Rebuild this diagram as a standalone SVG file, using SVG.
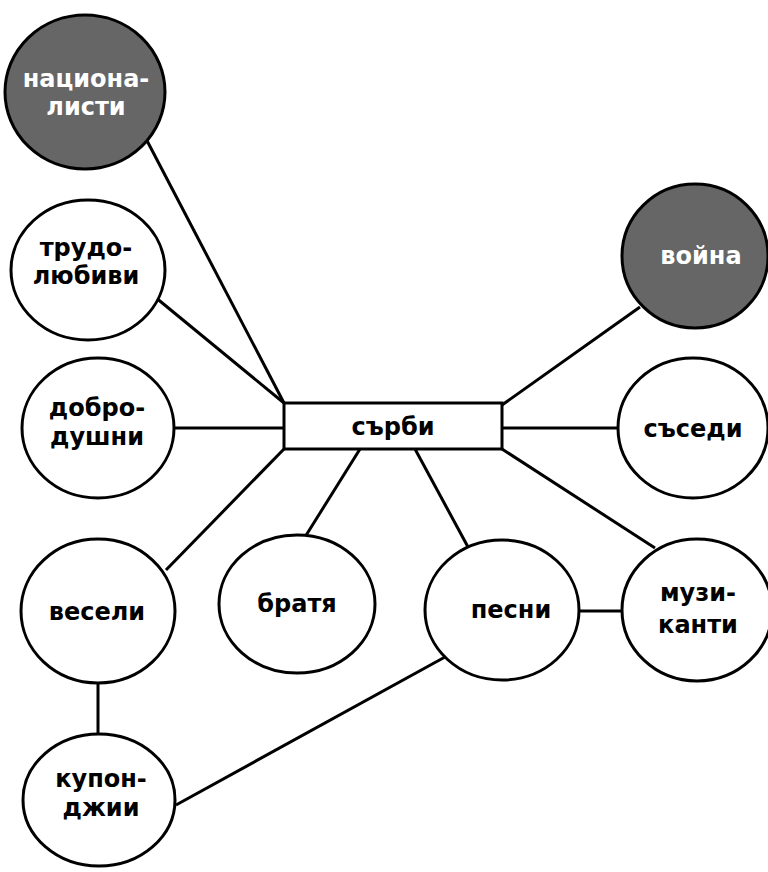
<svg xmlns="http://www.w3.org/2000/svg" width="768" height="872" viewBox="0 0 768 872">
<style>
.n{fill:#fff;stroke:#000;stroke-width:3}
.d{fill:#666;stroke:#000;stroke-width:3}
.t{font-family:"DejaVu Sans",Verdana,sans-serif;font-weight:bold;font-size:24px;text-anchor:middle;fill:#000}
.w{fill:#fff}
#edges line{stroke:#000;stroke-width:3}
</style>
<rect width="768" height="872" fill="#fff"/>
<g id="edges">
<line x1="143" y1="133" x2="284" y2="403"/>
<line x1="155" y1="297" x2="284" y2="403"/>
<line x1="175" y1="428" x2="284" y2="428"/>
<line x1="166" y1="570" x2="284" y2="449"/>
<line x1="305" y1="537" x2="360" y2="449"/>
<line x1="468" y1="547" x2="415" y2="449"/>
<line x1="655" y1="548" x2="502" y2="449"/>
<line x1="502" y1="428" x2="618" y2="428"/>
<line x1="640" y1="307" x2="502" y2="405"/>
<line x1="578" y1="611" x2="622" y2="611"/>
<line x1="98" y1="678" x2="98" y2="735"/>
<line x1="176" y1="805" x2="445" y2="657"/>
</g>
<g id="center"><rect class="n" x="284" y="403" width="218" height="46"/><text class="t" x="393" y="435">сърби</text></g>
<g id="nacionalisti"><ellipse class="d" cx="85" cy="92" rx="80" ry="77"/><text class="t w" x="86" y="87">национа-</text><text class="t w" x="86" y="115">листи</text></g>
<g id="trudolyubivi"><ellipse class="n" cx="88" cy="270" rx="77" ry="70"/><text class="t" x="86" y="256">трудо-</text><text class="t" x="86" y="284">любиви</text></g>
<g id="dobrodushni"><ellipse class="n" cx="98" cy="428" rx="76" ry="70"/><text class="t" x="97" y="416">добро-</text><text class="t" x="97" y="445">душни</text></g>
<g id="veseli"><ellipse class="n" cx="98" cy="611" rx="77" ry="72"/><text class="t" x="97" y="620">весели</text></g>
<g id="kuponjii"><ellipse class="n" cx="99" cy="800" rx="76" ry="66"/><text class="t" x="101" y="787">купон-</text><text class="t" x="101" y="816">джии</text></g>
<g id="bratya"><ellipse class="n" cx="297" cy="604" rx="78" ry="69"/><text class="t" x="297" y="612">братя</text></g>
<g id="pesni"><ellipse class="n" cx="502" cy="610" rx="77" ry="70"/><text class="t" x="511" y="618">песни</text></g>
<g id="muzikanti"><ellipse class="n" cx="697" cy="610" rx="75" ry="71"/><text class="t" x="698" y="601">музи-</text><text class="t" x="698" y="633">канти</text></g>
<g id="voyna"><ellipse class="d" cx="695" cy="256" rx="73" ry="72"/><text class="t w" x="701" y="264">война</text></g>
<g id="sasedi"><ellipse class="n" cx="693" cy="428" rx="75" ry="70"/><text class="t" x="693" y="437">съседи</text></g>
</svg>
